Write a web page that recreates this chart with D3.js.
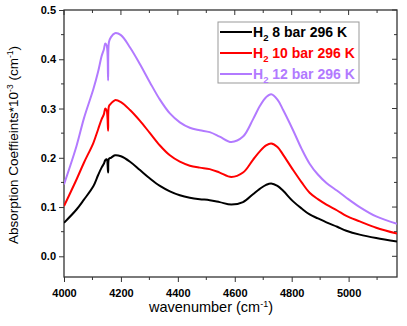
<!DOCTYPE html>
<html>
<head>
<meta charset="utf-8">
<script src="https://cdn.jsdelivr.net/npm/d3@7"></script>
<style>
  body { margin: 0; background: #fff; }
  text { font-family: "Liberation Sans", Arial, sans-serif; }
</style>
</head>
<body>
<div class="chart"></div>
<script>
var wavenumber = [4000, 4044, 4070, 4103, 4120, 4132, 4140, 4145, 4150, 4155, 4158, 4165, 4179, 4200,
  4232, 4267, 4302, 4337, 4372, 4407, 4442, 4477, 4512, 4547, 4588, 4629, 4664, 4688, 4710, 4728,
  4750, 4770, 4804, 4835, 4863, 4892, 4922, 4960, 4992, 5039, 5097, 5170];

var bar8 = [0.068, 0.095, 0.115, 0.142, 0.165, 0.180, 0.188, 0.195, 0.197, 0.170, 0.198, 0.200, 0.205, 0.203,
  0.192, 0.175, 0.158, 0.143, 0.132, 0.124, 0.119, 0.116, 0.114, 0.110, 0.105, 0.110, 0.126, 0.137, 0.145, 0.148,
  0.143, 0.133, 0.112, 0.097, 0.085, 0.077, 0.069, 0.060, 0.052, 0.044, 0.037, 0.030];

var bar10 = [0.102, 0.156, 0.190, 0.230, 0.258, 0.278, 0.288, 0.300, 0.296, 0.255, 0.305, 0.310, 0.317, 0.313,
  0.297, 0.275, 0.250, 0.225, 0.205, 0.192, 0.184, 0.180, 0.177, 0.170, 0.161, 0.170, 0.196, 0.213, 0.225, 0.229,
  0.222, 0.206, 0.176, 0.150, 0.129, 0.116, 0.105, 0.093, 0.082, 0.071, 0.058, 0.046];

var bar12 = [0.146, 0.224, 0.280, 0.339, 0.375, 0.406, 0.420, 0.432, 0.428, 0.357, 0.435, 0.445, 0.453, 0.449,
  0.424, 0.390, 0.353, 0.318, 0.290, 0.272, 0.261, 0.256, 0.252, 0.243, 0.232, 0.243, 0.278, 0.305, 0.323, 0.329,
  0.318, 0.297, 0.257, 0.218, 0.188, 0.166, 0.149, 0.133, 0.119, 0.100, 0.081, 0.066];

var seriesNames = ["8 bar 296 K", "10 bar 296 K", "12 bar 296 K"];
var seriesColors = ["#000000", "#ff0000", "#b27aff"];

var xTicks = [4000, 4200, 4400, 4600, 4800, 5000];
var yTicks = [0.0, 0.1, 0.2, 0.3, 0.4, 0.5];

var svgWidth = 407;
var svgHeight = 326;

var margin = { top: 10, right: 10, bottom: 49, left: 64 };
var width = svgWidth - margin.left - margin.right;
var height = svgHeight - margin.top - margin.bottom;

var svg = d3.select(".chart")
  .append("svg")
  .attr("width", svgWidth)
  .attr("height", svgHeight);

var chartGroup = svg.append("g")
  .attr("transform", `translate(${margin.left}, ${margin.top})`);

var xScale = d3.scaleLinear()
  .domain([4000, 5170])
  .range([0, width]);

var yScale = d3.scaleLinear()
  .domain([-0.042, 0.5])
  .range([height, 0]);

// minor ticks every 100 / 0.05
var xMinor = d3.range(4100, 5170, 200);
var yMinor = [0.05, 0.15, 0.25, 0.35, 0.45];

var axisColor = "#333";

// bottom axis
var bottomAxis = d3.axisBottom(xScale)
  .tickValues(xTicks)
  .tickSize(5)
  .tickFormat(d3.format("d"));

var xAxis = chartGroup.append("g")
  .attr("transform", `translate(0, ${height})`)
  .call(bottomAxis);

chartGroup.append("g")
  .attr("transform", `translate(0, ${height})`)
  .selectAll("line")
  .data(xMinor)
  .enter()
  .append("line")
  .attr("x1", d => xScale(d))
  .attr("x2", d => xScale(d))
  .attr("y1", 0)
  .attr("y2", 3)
  .attr("stroke", axisColor);

// left axis
var leftAxis = d3.axisLeft(yScale)
  .tickValues(yTicks)
  .tickSize(5)
  .tickFormat(d3.format(".1f"));

var yAxis = chartGroup.append("g")
  .call(leftAxis);

chartGroup.append("g")
  .selectAll("line")
  .data(yMinor)
  .enter()
  .append("line")
  .attr("x1", 0)
  .attr("x2", -3)
  .attr("y1", d => yScale(d))
  .attr("y2", d => yScale(d))
  .attr("stroke", axisColor);

// mirrored ticks on top and right
chartGroup.append("g")
  .selectAll("line")
  .data(xTicks.concat(xMinor))
  .enter()
  .append("line")
  .attr("x1", d => xScale(d))
  .attr("x2", d => xScale(d))
  .attr("y1", 0)
  .attr("y2", d => xTicks.indexOf(d) >= 0 ? 5 : 3)
  .attr("stroke", axisColor);

chartGroup.append("g")
  .selectAll("line")
  .data(yTicks.concat(yMinor))
  .enter()
  .append("line")
  .attr("x1", width)
  .attr("x2", d => width - (yTicks.indexOf(d) >= 0 ? 5 : 3))
  .attr("y1", d => yScale(d))
  .attr("y2", d => yScale(d))
  .attr("stroke", axisColor);

[xAxis, yAxis].forEach(function(ax) {
  ax.select(".domain").remove();
  ax.selectAll(".tick line").attr("stroke", axisColor);
  ax.selectAll(".tick text")
    .attr("fill", "#000")
    .style("font-size", "11px")
    .style("font-weight", "bold")
    .style("font-family", "'Liberation Sans', Arial, sans-serif");
});
xAxis.selectAll(".tick text").attr("dy", "1.05em");

// frame
chartGroup.append("rect")
  .attr("x", 0)
  .attr("y", 0)
  .attr("width", width)
  .attr("height", height)
  .attr("fill", "none")
  .attr("stroke", axisColor)
  .attr("stroke-width", 1.3);

// curves
var allSeries = [bar8, bar10, bar12];
var line = d3.line()
  .x(d => xScale(d[0]))
  .y(d => yScale(d[1]))
  .curve(d3.curveCatmullRom.alpha(0.5));

chartGroup.append("defs")
  .append("clipPath")
  .attr("id", "plotClip")
  .append("rect")
  .attr("width", width)
  .attr("height", height);

chartGroup.append("g")
  .attr("clip-path", "url(#plotClip)")
  .selectAll("path")
  .data(allSeries)
  .enter()
  .append("path")
  .attr("d", vals => line(wavenumber.map((w, i) => [w, vals[i]])))
  .attr("fill", "none")
  .attr("stroke", (d, i) => seriesColors[i])
  .attr("stroke-width", 2)
  .attr("stroke-linejoin", "round");

// axis titles
svg.append("text")
  .attr("x", 211)
  .attr("y", 312)
  .attr("text-anchor", "middle")
  .style("font-size", "14.5px")
  .html("wavenumber (cm<tspan dy='-5' font-size='9px'>-1</tspan><tspan dy='5'>)</tspan>");

svg.append("text")
  .attr("transform", "rotate(-90)")
  .attr("x", -145)
  .attr("y", 18)
  .attr("text-anchor", "middle")
  .style("font-size", "13.5px")
  .html("Absorption Coeffieints*10<tspan dy='-5' font-size='8.5px'>-3</tspan><tspan dy='5'> (cm</tspan><tspan dy='-5' font-size='8.5px'>-1</tspan><tspan dy='5'>)</tspan>");

// legend
var legend = svg.append("g")
  .attr("transform", "translate(218, 22)");

legend.append("rect")
  .attr("width", 141)
  .attr("height", 61)
  .attr("fill", "#fff")
  .attr("stroke", "#999")
  .attr("stroke-width", 1);

var legendRows = legend.selectAll("g.row")
  .data(seriesNames)
  .enter()
  .append("g")
  .attr("class", "row")
  .attr("transform", (d, i) => `translate(0, ${10 + i * 21})`);

legendRows.append("line")
  .attr("x1", 2)
  .attr("x2", 34)
  .attr("y1", 0)
  .attr("y2", 0)
  .attr("stroke", (d, i) => seriesColors[i])
  .attr("stroke-width", 2);

legendRows.append("text")
  .attr("x", 35)
  .attr("y", 5)
  .attr("fill", (d, i) => seriesColors[i])
  .style("font-size", "14px")
  .style("font-weight", "bold")
  .html(d => "H<tspan dy='4' font-size='9.5px'>2</tspan><tspan dy='-4'> " + d + "</tspan>");
</script>
</body>
</html>
